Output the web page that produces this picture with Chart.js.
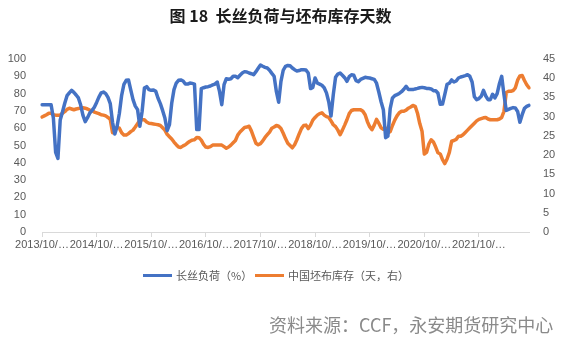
<!DOCTYPE html>
<html>
<head>
<meta charset="utf-8">
<script src="https://cdn.jsdelivr.net/npm/chart.js@4.4.1/dist/chart.umd.min.js"></script>
<style>
  html, body { margin: 0; padding: 0; background: #fff; }
  #wrap { position: relative; width: 561px; height: 345px; overflow: hidden; }
  canvas { position: absolute; left: 0; top: 0; }
  .txt { position: absolute; white-space: nowrap; font-family: "Noto Sans CJK SC", "Noto Sans", sans-serif; }
  #title { left: 0; width: 561px; text-align: center; top: 3px; font-size: 16px; font-weight: bold; color: #1a1a1a; }
  .lg-line { position: absolute; height: 3px; }
  .lg-text { font-size: 11px; color: #595959; top: 267px; line-height: 16px; }
  #source { left: 269px; top: 312px; font-size: 18px; color: #8a8a8a; line-height: 24px; }
</style>
</head>
<body>
<div id="wrap">
  <canvas id="c" width="561" height="345"></canvas>
  <div id="title" class="txt">图 18&nbsp;&nbsp;长丝负荷与坯布库存天数</div>
  <div class="lg-line" style="left:143px;top:274px;width:29px;background:#4472C4;"></div>
  <div class="txt lg-text" style="left:176px;">长丝负荷（%）</div>
  <div class="lg-line" style="left:255px;top:274px;width:29px;background:#ED7D31;"></div>
  <div class="txt lg-text" style="left:288px;">中国坯布库存（天，右）</div>
  <div id="source" class="txt">资料来源：CCF，永安期货研究中心</div>
</div>
<script>
// Tick labels shown on the category axis (one per year)
const tickLabels = ["2013/10/…","2014/10/…","2015/10/…","2016/10/…","2017/10/…","2018/10/…","2019/10/…","2020/10/…","2021/10/…"];
const tickEvery = 24; // semi-monthly observations per year

// 长丝负荷（%） — left axis
const filamentLoad = [
73.6,73.6,73.6,73.6,73.6,65.9,46,42.5,64.7,69.4,74.4,78.8,80.4,81.9,80.7,79.2,77.5,73.4,67.4,63.8,66.1,68.8,70.3,72.1,74.9,78.0,80.4,80.9,80.0,77.8,74.2,63.4,56.6,61.1,68.6,79.0,85.4,87.7,87.9,82.1,76.5,72.8,70.7,
61.1,69.8,83.2,84.0,82.3,81.9,82.1,81.3,77.3,74.2,70.3,65.9,58.6,62.0,74.4,82.3,86.1,87.7,87.9,87.3,85.5,85.5,86.1,85.9,85.5,59.2,59.2,82.9,83.4,83.8,84.0,84.4,85.0,85.5,86.7,81.3,73.6,85.2,88.6,88.3,88.6,90.0,90.0,
89.2,90.6,91.9,92.7,92.5,91.9,91.5,90.9,92.7,94.6,96.5,95.8,95.2,94.8,93.5,91.7,90.0,81.1,75,87.1,93.5,95.8,96.3,96.1,94.8,93.8,93.1,93.3,93.8,93.8,93.6,91.9,82.9,83.6,89.0,86.1,85.5,84.8,83.4,80.4,75.3,67,79.4,
89.4,91.3,91.9,90.6,89.2,87.1,89.8,90.9,90.6,87.5,86.9,88.2,88.8,89.4,89.2,89.0,88.6,88.2,86.0,80.9,75.3,70.7,54.5,55.5,71.3,77.5,78.8,79.4,80.1,81.1,82.5,84.2,82.3,82.3,82.3,82.7,83.0,83.4,83.6,83.4,83.0,82.9,82.7,
81.7,81.7,80.2,73.8,74.0,79.6,85.4,86.0,87.9,86.7,87.3,89.0,89.6,90.0,90.4,90.9,90.0,86.7,78.2,76.5,77.1,78.4,81.9,78.6,76.5,76.5,79.6,77.5,80.0,85.7,90,79.4,70.3,70.9,71.5,71.9,71.7,69.7,63.4,67.8,71.5,72.6,73.2
];

// 中国坯布库存（天，右） — right axis
const greyClothStock = [
29.9,30.2,30.5,30.9,30.9,30.5,30.4,30.4,30.4,30.9,31.3,31.9,32.2,32.0,31.8,32.0,32.1,32.3,32.3,32.2,32.0,31.7,31.6,31.2,31.0,30.8,30.5,30.4,30.2,29.8,29.3,25.8,26.6,27.2,27.0,25.8,25.2,25.2,25.6,26.1,26.5,27.3,28.2,
29.1,29.2,29.2,28.6,28.3,28.2,28.1,28.0,27.9,27.7,27.1,26.5,25.4,24.8,24.2,23.4,22.7,22.1,22.0,22.4,22.7,23.2,23.6,23.9,24.0,24.6,24.5,23.9,22.8,22.1,22.0,22.2,22.6,22.6,22.6,22.6,22.6,22.2,21.8,22.1,22.6,23.2,23.8,
25.2,26.0,26.6,27.2,27.3,27.5,26.3,24.7,23.1,22.7,23.0,23.7,24.6,25.3,26.0,27.0,27.3,27.7,27.5,26.9,25.7,24.3,23.1,22.5,21.9,22.7,24.0,25.5,26.9,27.7,27.8,26.9,27.8,29.1,29.8,30.4,30.8,31.0,30.4,30.0,29.8,28.9,27.9,
27.4,26.5,25.3,26.5,27.8,29.2,30.8,31.6,31.8,31.8,31.8,31.8,31.4,30.5,28.7,27.4,26.6,27.8,29.3,28.3,27.1,26.7,27.0,25.8,26.1,27.7,29.1,30.2,31.0,31.4,31.4,31.7,32.2,32.5,32.9,32.7,30.9,28.2,26.2,20.3,20.7,22.9,24.0,
23.4,22.1,20.6,20.3,18.8,17.8,19.0,20.7,23.6,23.8,24.1,24.9,24.9,25.3,25.9,26.5,27.1,27.7,28.3,28.9,29.3,29.5,29.7,29.8,29.4,29.2,29.2,29.2,29.2,29.4,29.8,31.4,36.3,36.6,36.6,36.8,37.5,39.5,40.6,40.7,39.4,38.3,37.5
];

// Semi-monthly observation dates starting 2013/10
const dates = [];
for (let i = 0; i < filamentLoad.length; i++) {
  const m = 9 + Math.floor(i / 2);
  const y = 2013 + Math.floor(m / 12);
  const mo = (m % 12) + 1;
  dates.push(y + "/" + mo + "/" + (i % 2 === 0 ? "15" : "28"));
}

const tickFont = { family: "'Liberation Sans', Arial, sans-serif", size: 11 };
const tickColor = "#595959";

new Chart(document.getElementById("c"), {
  type: "line",
  data: {
    labels: dates,
    datasets: [
      { label: "长丝负荷（%）", data: filamentLoad, yAxisID: "yL", borderColor: "#4472C4", backgroundColor: "#4472C4", borderWidth: 3.5, pointRadius: 0, tension: 0, borderJoinStyle: "round", borderCapStyle: "round" },
      { label: "中国坯布库存（天，右）", data: greyClothStock, yAxisID: "yR", borderColor: "#ED7D31", backgroundColor: "#ED7D31", borderWidth: 3.5, pointRadius: 0, tension: 0, borderJoinStyle: "round", borderCapStyle: "round" }
    ]
  },
  options: {
    responsive: false,
    animation: false,
    devicePixelRatio: 1,
    layout: { padding: { top: 59, left: 0, right: 0, bottom: 0 } },
    plugins: { legend: { display: false }, title: { display: false }, tooltip: { enabled: false } },
    scales: {
      x: {
        type: "category",
        offset: false,
        grid: { display: true, drawOnChartArea: false, drawTicks: true, tickLength: 5, color: "#d9d9d9", offset: false },
        border: { display: true, color: "#d9d9d9", width: 1 },
        ticks: {
          autoSkip: false, maxRotation: 0, minRotation: 0, padding: 1,
          color: tickColor, font: tickFont,
          callback: function (v, idx) { return idx % tickEvery === 0 ? tickLabels[idx / tickEvery] : null; }
        },
        afterFit: function (s) { s.height = 113; }
      },
      yL: {
        position: "left", min: 0, max: 100,
        grid: { display: false }, border: { display: false },
        ticks: { stepSize: 10, color: tickColor, font: tickFont, padding: 8 },
        afterFit: function (s) { s.width = 42; }
      },
      yR: {
        position: "right", min: 0, max: 45,
        grid: { display: false }, border: { display: false },
        ticks: { stepSize: 5, color: tickColor, font: tickFont, padding: 6 },
        afterFit: function (s) { s.width = 32; }
      }
    }
  }
});
</script>
</body>
</html>
